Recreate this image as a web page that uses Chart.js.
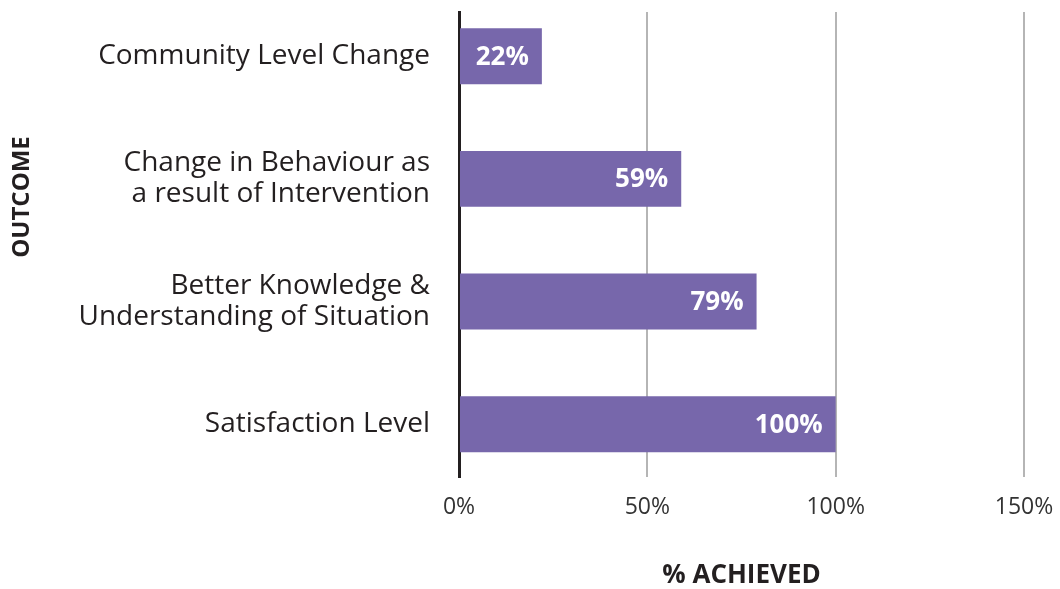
<!DOCTYPE html>
<html>
<head>
<meta charset="utf-8">
<script src="https://cdn.jsdelivr.net/npm/chart.js@4"></script>
<style>
  html, body { margin: 0; padding: 0; background: #fff; }
  #wrap { width: 1060px; height: 589px; }
</style>
</head>
<body>
<div id="wrap"><canvas id="chart"></canvas></div>
<script>
const outcomes = [
  'Community Level Change',
  ['Change in Behaviour as', 'a result of Intervention'],
  ['Better Knowledge &', 'Understanding of Situation'],
  'Satisfaction Level'
];
const achieved = [22, 59, 79, 100];
const xTicks = [0, 50, 100, 150];

const FONT = "'Open Sans', sans-serif";
const INK = '#231f20';

// white % labels at the end of each bar, plus the y title placed like the original
const valueLabels = {
  id: 'valueLabels',
  afterDatasetsDraw(chart) {
    const ctx = chart.ctx;
    const meta = chart.getDatasetMeta(0);
    ctx.save();
    ctx.font = "bold 26px " + FONT;
    ctx.fillStyle = '#fff';
    ctx.textAlign = 'right';
    ctx.textBaseline = 'middle';
    meta.data.forEach((bar, i) => {
      ctx.fillText(achieved[i] + '%', bar.x - 13, bar.y + 1);
    });
    ctx.restore();
  },
  afterDraw(chart) {
    const ctx = chart.ctx;
    ctx.save();
    ctx.translate(22, 197);
    ctx.rotate(-Math.PI / 2);
    ctx.font = "bold 24px " + FONT;
    ctx.fillStyle = INK;
    ctx.textAlign = 'center';
    ctx.textBaseline = 'middle';
    ctx.fillText('OUTCOME', 0, 0);
    ctx.restore();
  }
};

new Chart(document.getElementById('chart'), {
  type: 'bar',
  data: {
    datasets: [{
      data: achieved.map((v, i) => ({ x: v, y: i })),
      backgroundColor: '#7767ab',
      categoryPercentage: 1,
      barPercentage: 0.456
    }]
  },
  options: {
    indexAxis: 'y',
    responsive: true,
    maintainAspectRatio: false,
    animation: false,
    layout: { padding: { top: 12, right: 36, left: 0, bottom: 0 } },
    plugins: { legend: { display: false }, tooltip: { enabled: false } },
    scales: {
      x: {
        type: 'linear',
        min: 0,
        max: 150,
        afterBuildTicks: (axis) => { axis.ticks = xTicks.map(v => ({ value: v })); },
        afterFit: (axis) => {
          axis.height = 112;
          axis.paddingLeft = 0;
          axis.paddingRight = 0;
        },
        ticks: {
          callback: (v) => v + '%',
          color: '#333',
          font: { family: FONT, size: 23 },
          padding: 17,
          maxRotation: 0
        },
        grid: {
          drawTicks: false,
          lineWidth: 2,
          color: (c) => c.index === 0 ? 'rgba(0,0,0,0)' : '#b5b5b5'
        },
        border: { display: false },
        title: {
          display: true,
          text: '% ACHIEVED',
          color: INK,
          font: { family: FONT, size: 26, weight: 'bold', lineHeight: 1 },
          padding: { top: 0, bottom: 0 }
        }
      },
      y: {
        type: 'linear',
        reverse: true,
        offset: false,
        bounds: 'data',
        min: -0.36,
        max: 3.43,
        afterBuildTicks: (axis) => { axis.ticks = outcomes.map((o, i) => ({ value: i })); },
        afterFit: (axis) => {
          axis.width = 459;
          axis.paddingTop = 0;
          axis.paddingBottom = 0;
        },
        ticks: {
          autoSkip: false,
          callback: (v) => outcomes[v],
          color: INK,
          font: { family: FONT, size: 28, lineHeight: 1.1 },
          padding: 29
        },
        grid: { display: false, drawTicks: false, offset: false },
        border: { display: true, color: INK, width: 3 },
        title: { display: false }
      }
    }
  },
  plugins: [valueLabels]
});
</script>
</body>
</html>
